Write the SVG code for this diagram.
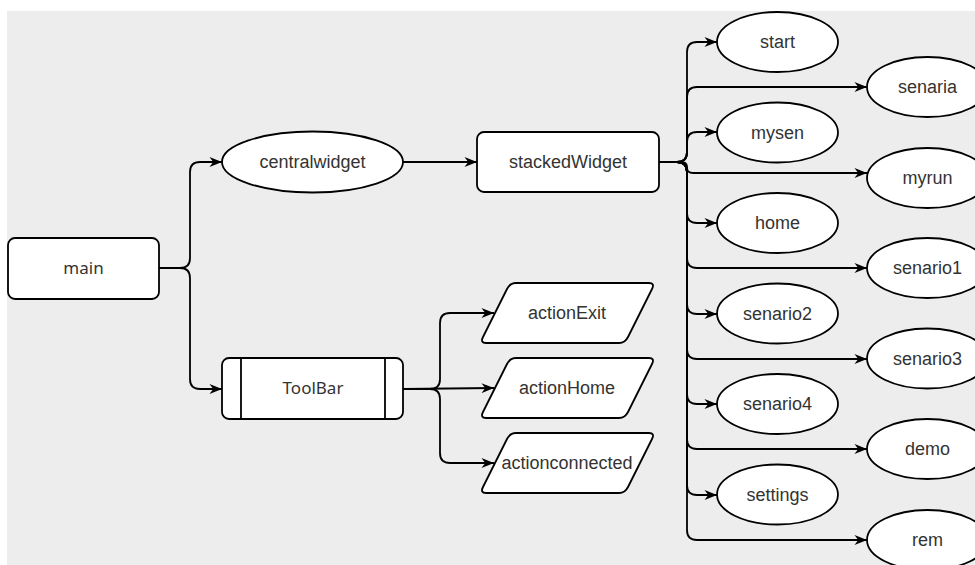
<svg xmlns="http://www.w3.org/2000/svg" width="975" height="565" viewBox="0 0 975 565">
  <style>
    .bg { fill: #ededed; }
    .node { fill: #ffffff; stroke: #000000; stroke-width: 1.8; }
    .edge { fill: none; stroke: #000000; stroke-width: 1.8; marker-end: url(#arrow); }
    .plain { fill: none; stroke: #000000; stroke-width: 1.8; }
    .lbl { font-family: "Liberation Sans", Arial, sans-serif; font-size: 18px; fill: #333333; text-anchor: middle; }
    .lbl2 { font-family: "Noto Sans", "Segoe UI", sans-serif; font-size: 17px; fill: #333333; text-anchor: middle; }
  </style>
  <defs>
    <marker id="arrow" viewBox="0 0 10 8" refX="10" refY="4" markerWidth="13" markerHeight="10" markerUnits="userSpaceOnUse" orient="auto">
      <path d="M0,0 L10,4 L0,8 L3,4 Z" fill="#000000"/>
    </marker>
    <path id="para" d="M516,283 L649,283 Q655,283 652,289 L628,337 Q625,343 619,343 L486,343 Q480,343 483,337 L507,289 Q510,283 516,283 Z"/>
  </defs>

  <rect class="bg" x="7" y="11" width="968" height="554"/>

  <!-- connectors -->
  <g id="connectors">
    <!-- main -->
    <path class="edge" d="M159,268 L180,268 Q190,268 190,258 L190,172 Q190,162 200,162 L222,162"/>
    <path class="edge" d="M159,268 L180,268 Q190,268 190,278 L190,379 Q190,389 200,389 L222,389"/>
    <!-- centralwidget -->
    <path class="edge" d="M403,162 L477,162"/>
    <!-- ToolBar -->
    <path class="edge" d="M403,389 L430,389 Q440,389 440,379 L440,323 Q440,313 450,313 L494,313"/>
    <path class="edge" d="M403,389 L494,388"/>
    <path class="edge" d="M403,389 L430,389 Q440,389 440,399 L440,453 Q440,463 450,463 L494,463"/>
    <!-- stackedWidget -->
    <path class="edge" d="M659,162 L677,162 Q687,162 687,152 L687,52 Q687,42 697,42 L717,42"/>
    <path class="edge" d="M659,162 L677,162 Q687,162 687,152 L687,97 Q687,87 697,87 L867,87"/>
    <path class="edge" d="M659,162 L677,162 Q687,162 687,152 L687,142 Q687,132 697,132 L717,132"/>
    <path class="edge" d="M659,162 L681,162 Q687,162 687,167.5 Q687,173 693,173 L867,173"/>
    <path class="edge" d="M659,162 L677,162 Q687,162 687,172 L687,213 Q687,223 697,223 L717,223"/>
    <path class="edge" d="M659,162 L677,162 Q687,162 687,172 L687,258 Q687,268 697,268 L867,268"/>
    <path class="edge" d="M659,162 L677,162 Q687,162 687,172 L687,304 Q687,314 697,314 L717,314"/>
    <path class="edge" d="M659,162 L677,162 Q687,162 687,172 L687,349 Q687,359 697,359 L867,359"/>
    <path class="edge" d="M659,162 L677,162 Q687,162 687,172 L687,394 Q687,404 697,404 L717,404"/>
    <path class="edge" d="M659,162 L677,162 Q687,162 687,172 L687,439 Q687,449 697,449 L867,449"/>
    <path class="edge" d="M659,162 L677,162 Q687,162 687,172 L687,485 Q687,495 697,495 L717,495"/>
    <path class="edge" d="M659,162 L677,162 Q687,162 687,172 L687,530 Q687,540 697,540 L867,540"/>
  </g>

  <!-- nodes -->
  <g id="main">
    <rect class="node" x="8" y="238" width="151" height="61" rx="7"/>
    <text class="lbl2" x="83.5" y="274">main</text>
  </g>
  <g id="centralwidget">
    <ellipse class="node" cx="312.5" cy="162" rx="90.5" ry="30.5"/>
    <text class="lbl" x="312.5" y="168">centralwidget</text>
  </g>
  <g id="toolbar">
    <rect class="node" x="222" y="358" width="181" height="61" rx="7"/>
    <line class="plain" x1="241" y1="358" x2="241" y2="419"/>
    <line class="plain" x1="385" y1="358" x2="385" y2="419"/>
    <text class="lbl2" x="313" y="394">ToolBar</text>
  </g>
  <g id="stackedWidget">
    <rect class="node" x="477" y="132" width="182" height="60" rx="7"/>
    <text class="lbl" x="568" y="168">stackedWidget</text>
  </g>

  <g id="actionExit">
    <use href="#para" class="node"/>
    <text class="lbl" x="567" y="319">actionExit</text>
  </g>
  <g id="actionHome">
    <use href="#para" class="node" transform="translate(0,75)"/>
    <text class="lbl" x="567" y="394">actionHome</text>
  </g>
  <g id="actionconnected">
    <use href="#para" class="node" transform="translate(0,150)"/>
    <text class="lbl" x="567" y="469">actionconnected</text>
  </g>

  <g id="start">
    <ellipse class="node" cx="777.5" cy="42" rx="60.5" ry="30"/>
    <text class="lbl" x="777.5" y="48">start</text>
  </g>
  <g id="senaria">
    <ellipse class="node" cx="927.5" cy="87" rx="60.5" ry="30"/>
    <text class="lbl" x="927.5" y="93">senaria</text>
  </g>
  <g id="mysen">
    <ellipse class="node" cx="777.5" cy="132.5" rx="60.5" ry="30"/>
    <text class="lbl" x="777.5" y="138.5">mysen</text>
  </g>
  <g id="myrun">
    <ellipse class="node" cx="927.5" cy="178" rx="60.5" ry="30"/>
    <text class="lbl" x="927.5" y="184">myrun</text>
  </g>
  <g id="home">
    <ellipse class="node" cx="777.5" cy="223" rx="60.5" ry="30"/>
    <text class="lbl" x="777.5" y="229">home</text>
  </g>
  <g id="senario1">
    <ellipse class="node" cx="927.5" cy="268" rx="60.5" ry="30"/>
    <text class="lbl" x="927.5" y="274">senario1</text>
  </g>
  <g id="senario2">
    <ellipse class="node" cx="777.5" cy="313.5" rx="60.5" ry="30"/>
    <text class="lbl" x="777.5" y="319.5">senario2</text>
  </g>
  <g id="senario3">
    <ellipse class="node" cx="927.5" cy="358.5" rx="60.5" ry="30"/>
    <text class="lbl" x="927.5" y="364.5">senario3</text>
  </g>
  <g id="senario4">
    <ellipse class="node" cx="777.5" cy="404" rx="60.5" ry="30"/>
    <text class="lbl" x="777.5" y="410">senario4</text>
  </g>
  <g id="demo">
    <ellipse class="node" cx="927.5" cy="449" rx="60.5" ry="30"/>
    <text class="lbl" x="927.5" y="455">demo</text>
  </g>
  <g id="settings">
    <ellipse class="node" cx="777.5" cy="494.5" rx="60.5" ry="30"/>
    <text class="lbl" x="777.5" y="500.5">settings</text>
  </g>
  <g id="rem">
    <ellipse class="node" cx="927.5" cy="540" rx="60.5" ry="30"/>
    <text class="lbl" x="927.5" y="546">rem</text>
  </g>
</svg>
